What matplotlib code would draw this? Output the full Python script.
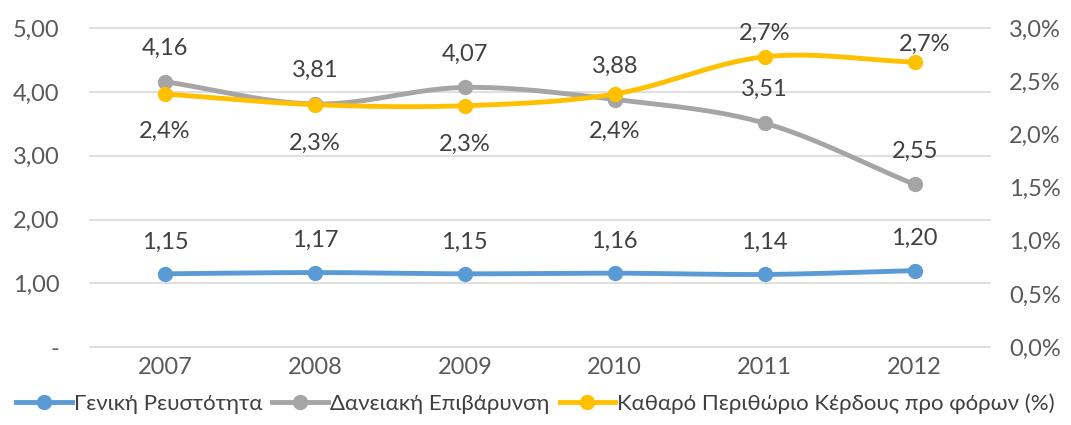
import numpy as np
import matplotlib
matplotlib.use("Agg")
import matplotlib.pyplot as plt
from matplotlib.ticker import FuncFormatter, FixedLocator
from matplotlib.lines import Line2D

years = ["2007", "2008", "2009", "2010", "2011", "2012"]
liquidity = [1.15, 1.17, 1.15, 1.16, 1.14, 1.20]
leverage = [4.16, 3.81, 4.07, 3.88, 3.51, 2.55]
margin = [2.38, 2.28, 2.27, 2.38, 2.73, 2.68]  # percent

names = ["Γενική Ρευστότητα", "Δανειακή Επιβάρυνση", "Καθαρό Περιθώριο Κέρδους προ φόρων (%)"]
colors = ["#5B9BD5", "#A5A5A5", "#FFC000"]

plt.rcParams['font.family'] = ['Lato', 'DejaVu Sans']

def smooth(x, y, n=30):
    x = np.asarray(x, float); y = np.asarray(y, float)
    px = np.concatenate([[2*x[0]-x[1]], x, [2*x[-1]-x[-2]]])
    py = np.concatenate([[2*y[0]-y[1]], y, [2*y[-1]-y[-2]]])
    xs, ys = [], []
    for i in range(1, len(px)-2):
        p0, p1, p2, p3 = (np.array([px[j], py[j]]) for j in range(i-1, i+3))
        c1 = p1 + (p2 - p0) / 6
        c2 = p2 - (p3 - p1) / 6
        t = np.linspace(0, 1, n)[:, None]
        b = (1-t)**3*p1 + 3*(1-t)**2*t*c1 + 3*(1-t)*t**2*c2 + t**3*p2
        xs.append(b[:, 0]); ys.append(b[:, 1])
    return np.concatenate(xs), np.concatenate(ys)

fig = plt.figure(figsize=(10.71, 4.25), dpi=100)
ax = fig.add_axes([0.084, 0.183, 0.84, 0.751])
ax2 = ax.twinx()

x = np.arange(len(years))
ax.set_xlim(-0.5, len(years)-0.5)
ax.set_ylim(0, 5)
ax2.set_ylim(0, 3)

ax.yaxis.set_major_locator(FixedLocator([0, 1, 2, 3, 4, 5]))
ax.yaxis.set_major_formatter(FuncFormatter(lambda v, p: "-" if abs(v) < 1e-9 else f"{v:.2f}".replace(".", ",")))
ax2.yaxis.set_major_locator(FixedLocator([0, 0.5, 1, 1.5, 2, 2.5, 3]))
ax2.yaxis.set_major_formatter(FuncFormatter(lambda v, p: f"{v:.1f}%".replace(".", ",")))
ax.set_xticks(x)
ax.set_xticklabels(years)

for a in (ax, ax2):
    for s in a.spines.values():
        s.set_visible(False)
    a.tick_params(length=0, labelsize=17, colors="#595959")
ax.tick_params(axis='y', pad=22)
ax.tick_params(axis='x', pad=7)
ax2.tick_params(axis='y', pad=14)
ax.grid(axis='y', color="#D9D9D9", linewidth=1.2, clip_on=False)
ax.set_axisbelow(True)

sx, sy = smooth(x, liquidity)
ax.plot(sx, sy, color=colors[0], lw=3.5, solid_capstyle='round', zorder=3)
ax.plot(x, liquidity, 'o', color=colors[0], ms=10, zorder=4)
sx, sy = smooth(x, leverage)
ax.plot(sx, sy, color=colors[1], lw=3.5, solid_capstyle='round', zorder=3)
ax.plot(x, leverage, 'o', color=colors[1], ms=10, zorder=4)
sx, sy = smooth(x, margin)
ax2.plot(sx, sy, color=colors[2], lw=3.5, solid_capstyle='round', zorder=3)
ax2.plot(x, margin, 'o', color=colors[2], ms=10, zorder=4)

lab = dict(ha='center', va='center', fontsize=17, color="#404040")
margin_offsets = [(0, -27), (0, -28), (0, -28), (0, -27), (0, 17), (7, 13)]
for i in range(len(years)):
    ax.annotate(f"{liquidity[i]:.2f}".replace(".", ","), (x[i], liquidity[i]), xytext=(0, 23), textcoords='offset points', **lab)
    ax.annotate(f"{leverage[i]:.2f}".replace(".", ","), (x[i], leverage[i]), xytext=(0, 24), textcoords='offset points', **lab)
    ax2.annotate(f"{margin[i]:.1f}%".replace(".", ","), (x[i], margin[i]), xytext=margin_offsets[i], textcoords='offset points', zorder=6, **lab)

hs = [Line2D([], [], color=c, lw=3.5, marker='o', ms=10) for c in colors]
fig.legend(hs, names, loc='lower center', bbox_to_anchor=(0.5, -0.02), ncol=3, frameon=False,
           fontsize=16, handlelength=2.5, handletextpad=0.1, columnspacing=0.45,
           labelcolor="#404040")

fig.savefig("out.png", dpi=100)
